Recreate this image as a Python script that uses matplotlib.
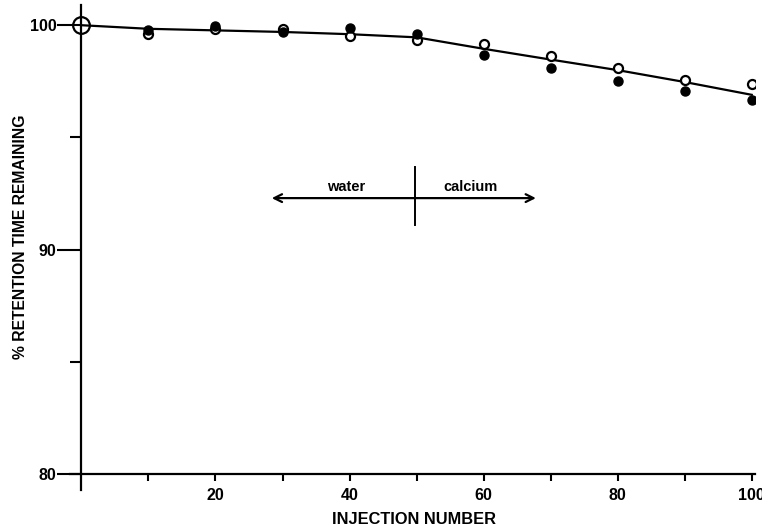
import matplotlib.pyplot as plt
import numpy as np

# Valores
injections = [10, 20, 30, 40, 50, 60, 70, 80, 90, 100]
open_pts = [99.59, 99.82, 99.85, 99.50, 99.33, 99.15, 98.63, 98.10, 97.58, 97.40]
filled_pts = [99.78, 99.98, 99.70, 99.87, 99.63, 98.66, 98.10, 97.50, 97.07, 96.66]

curve_x = [0, 10, 20, 30, 40, 50, 60, 70, 80, 90, 100]
curve_y = [100.0, 99.84, 99.77, 99.70, 99.60, 99.46, 98.95, 98.47, 98.00, 97.47, 96.90]

start_x, start_y = 0, 100.0

plt.rcParams['font.family'] = ['Liberation Sans', 'DejaVu Sans']
plt.rcParams['font.weight'] = 'bold'

fig = plt.figure(figsize=(7.62, 5.32), dpi=100)
ax = fig.add_axes([0.0919, 0.0789, 0.899, 0.9117])

ax.set_xlim(-1.7, 100.5)
ax.set_ylim(79.3, 100.9)

# Eixos cruzando em (0, 80)
ax.spines['left'].set_position(('data', 0))
ax.spines['bottom'].set_position(('data', 80))
ax.spines['right'].set_visible(False)
ax.spines['top'].set_visible(False)
for s in ('left', 'bottom'):
    ax.spines[s].set_linewidth(1.6)

ax.plot(curve_x, curve_y, color='black', lw=1.6, zorder=2)
ax.plot(injections, open_pts, 'o', ms=6.5, mfc='white', mec='black', mew=1.6, zorder=3)
ax.plot(injections, filled_pts, 'o', ms=6.5, mfc='black', mec='black', mew=1.0, zorder=4)
ax.plot([start_x], [start_y], 'o', ms=12, mfc='none', mec='black', mew=1.6,
        zorder=5, clip_on=False)

ax.set_xticks(range(10, 101, 10))
ax.set_xticklabels(['' if v % 20 else str(v) for v in range(10, 101, 10)])
ax.set_yticks([80, 90, 100])
ax.set_yticklabels(['80', '90', '100'])
ax.set_yticks([85, 95], minor=True)
ax.tick_params(axis='x', direction='out', length=5, width=1.5, pad=5, labelsize=11.5)
ax.tick_params(axis='y', which='major', direction='out', length=17, width=1.5, pad=1,
               labelsize=11.5)
ax.tick_params(axis='y', which='minor', direction='out', length=8, width=1.5)

ax.set_xlabel('INJECTION NUMBER', fontsize=11.8, fontweight='bold')
ax.xaxis.set_label_coords(0.502, -0.045)
ax.set_ylabel('% RETENTION TIME REMAINING', fontsize=11.3, fontweight='bold')
ax.yaxis.set_label_coords(-0.062, 0.522)

# Seta de água / cálcio
ax.annotate('', xy=(28.4, 92.3), xytext=(67.8, 92.3),
            arrowprops=dict(arrowstyle='<->', lw=1.6, color='black',
                            mutation_scale=14, shrinkA=0, shrinkB=0))
ax.plot([49.8, 49.8], [91.1, 93.7], color='black', lw=1.4)
ax.text(39.5, 92.8, 'water', ha='center', va='center', fontsize=10.5, fontweight='bold')
ax.text(58.0, 92.8, 'calcium', ha='center', va='center', fontsize=10.5, fontweight='bold')

plt.savefig('out.png', dpi=100)
